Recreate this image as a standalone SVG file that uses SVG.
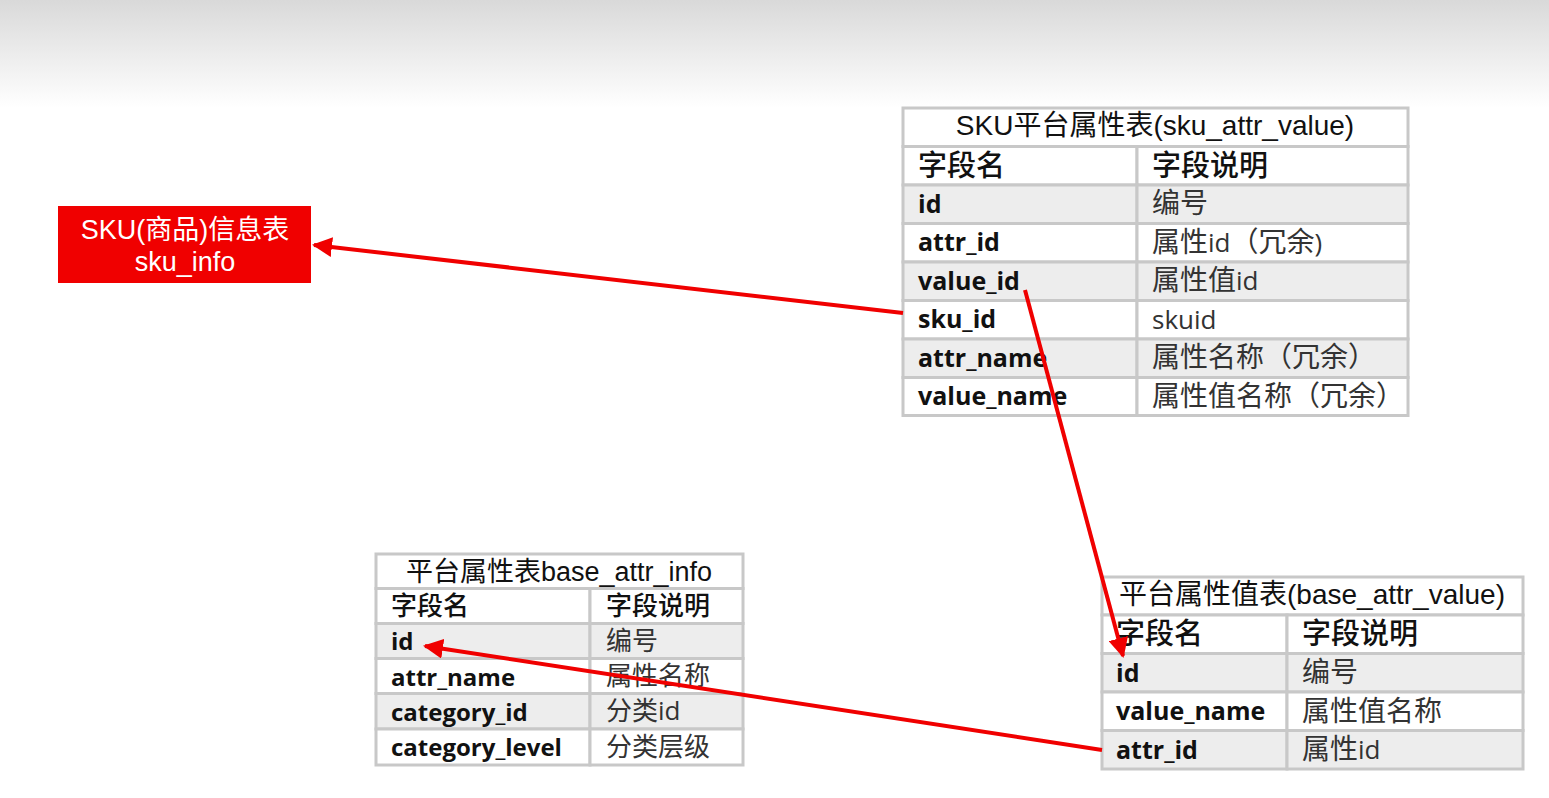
<svg xmlns="http://www.w3.org/2000/svg" width="1549" height="798" viewBox="0 0 1549 798">
<defs>
<linearGradient id="bg" x1="0" y1="0" x2="0" y2="1">
<stop offset="0" stop-color="#d9d9d9"/>
<stop offset="1" stop-color="#ffffff"/>
</linearGradient>
<marker id="ah" viewBox="0 0 10 10" refX="9" refY="5" markerWidth="5" markerHeight="5" orient="auto" markerUnits="strokeWidth">
<path d="M0,0 L10,5 L0,10 z" fill="#f00000"/>
</marker>
<style>
.cell{stroke:#c8c8c8;stroke-width:3}
.w{fill:#ffffff}
.g{fill:#ededed}
.title{font-family:"Liberation Sans","Noto Sans CJK SC",sans-serif;font-size:28px;fill:#111;text-anchor:middle}
.hd{font-family:"Noto Sans CJK SC",sans-serif;font-size:29px;font-weight:500;fill:#111}
.fn{font-family:"Open Sans","Noto Sans CJK SC",sans-serif;font-weight:bold;font-size:25px;fill:#111}
.ds{font-family:"Noto Sans CJK SC",sans-serif;font-size:28px;fill:#333}
.lt{font-family:"Open Sans",sans-serif;font-size:26px}
.sm .hd{font-size:26px}
.sm .ds{font-size:26px}
.sm .fn{font-size:24px}
.sm .title{font-size:27px}
.lbl{font-family:"Liberation Sans","Noto Sans CJK SC",sans-serif;font-size:27px;fill:#fff;text-anchor:middle}
.conn{stroke:#f00000;stroke-width:4;fill:none;marker-end:url(#ah)}
</style>
</defs>
<rect x="0" y="0" width="1549" height="108" fill="url(#bg)"/>
<rect x="0" y="108" width="1549" height="690" fill="#ffffff"/>

<g id="sku_info">
<rect x="58" y="206" width="253" height="77" fill="#f00000"/>
<text class="lbl" x="185" y="239">SKU(商品)信息表</text>
<text class="lbl" x="185" y="271">sku_info</text>
</g>

<g id="sku_attr_value">
<rect class="cell w" x="903" y="108" width="505" height="38.5"/>
<rect class="cell w" x="903" y="146.5" width="234" height="38.5"/>
<rect class="cell w" x="1137" y="146.5" width="271" height="38.5"/>
<rect class="cell g" x="903" y="185" width="234" height="38.5"/>
<rect class="cell g" x="1137" y="185" width="271" height="38.5"/>
<rect class="cell w" x="903" y="223.5" width="234" height="38.5"/>
<rect class="cell w" x="1137" y="223.5" width="271" height="38.5"/>
<rect class="cell g" x="903" y="262" width="234" height="38.5"/>
<rect class="cell g" x="1137" y="262" width="271" height="38.5"/>
<rect class="cell w" x="903" y="300.5" width="234" height="38.5"/>
<rect class="cell w" x="1137" y="300.5" width="271" height="38.5"/>
<rect class="cell g" x="903" y="339" width="234" height="38.5"/>
<rect class="cell g" x="1137" y="339" width="271" height="38.5"/>
<rect class="cell w" x="903" y="377.5" width="234" height="38"/>
<rect class="cell w" x="1137" y="377.5" width="271" height="38"/>
<text class="title" x="1155" y="135">SKU平台属性表(sku_attr_value)</text>
<text class="hd" x="918" y="176">字段名</text>
<text class="hd" x="1152" y="176">字段说明</text>
<text class="fn" x="918" y="213">id</text>
<text class="ds" x="1152" y="213">编号</text>
<text class="fn" x="918" y="251">attr_id</text>
<text class="ds" x="1152" y="252">属性<tspan class="lt">id</tspan>（冗余<tspan class="lt">)</tspan></text>
<text class="fn" x="918" y="290">value_id</text>
<text class="ds" x="1152" y="290">属性值<tspan class="lt">id</tspan></text>
<text class="fn" x="918" y="328">sku_id</text>
<text class="ds" x="1152" y="329"><tspan class="lt">skuid</tspan></text>
<text class="fn" x="918" y="367">attr_name</text>
<text class="ds" x="1152" y="367">属性名称（冗余）</text>
<text class="fn" x="918" y="405">value_name</text>
<text class="ds" x="1152" y="406">属性值名称（冗余）</text>
</g>

<g id="base_attr_info" class="sm">
<rect class="cell w" x="376" y="554" width="367" height="34.5"/>
<rect class="cell w" x="376" y="588.5" width="214" height="35"/>
<rect class="cell w" x="590" y="588.5" width="153" height="35"/>
<rect class="cell g" x="376" y="623.5" width="214" height="35"/>
<rect class="cell g" x="590" y="623.5" width="153" height="35"/>
<rect class="cell w" x="376" y="658.5" width="214" height="35"/>
<rect class="cell w" x="590" y="658.5" width="153" height="35"/>
<rect class="cell g" x="376" y="693.5" width="214" height="35.5"/>
<rect class="cell g" x="590" y="693.5" width="153" height="35.5"/>
<rect class="cell w" x="376" y="729" width="214" height="36"/>
<rect class="cell w" x="590" y="729" width="153" height="36"/>
<text class="title" x="559" y="581">平台属性表base_attr_info</text>
<text class="hd" x="391" y="615">字段名</text>
<text class="hd" x="606" y="615">字段说明</text>
<text class="fn" x="391" y="650">id</text>
<text class="ds" x="606" y="650">编号</text>
<text class="fn" x="391" y="686">attr_name</text>
<text class="ds" x="606" y="685">属性名称</text>
<text class="fn" x="391" y="721">category_id</text>
<text class="ds" x="606" y="720">分类<tspan class="lt">id</tspan></text>
<text class="fn" x="391" y="756">category_level</text>
<text class="ds" x="606" y="756">分类层级</text>
</g>

<g id="base_attr_value">
<rect class="cell w" x="1102" y="577" width="421" height="38"/>
<rect class="cell w" x="1102" y="615" width="185" height="38.5"/>
<rect class="cell w" x="1287" y="615" width="236" height="38.5"/>
<rect class="cell g" x="1102" y="653.5" width="185" height="38.5"/>
<rect class="cell g" x="1287" y="653.5" width="236" height="38.5"/>
<rect class="cell w" x="1102" y="692" width="185" height="38.5"/>
<rect class="cell w" x="1287" y="692" width="236" height="38.5"/>
<rect class="cell g" x="1102" y="730.5" width="185" height="38.5"/>
<rect class="cell g" x="1287" y="730.5" width="236" height="38.5"/>
<text class="title" x="1312" y="604">平台属性值表(base_attr_value)</text>
<text class="hd" x="1116" y="644">字段名</text>
<text class="hd" x="1302" y="644">字段说明</text>
<text class="fn" x="1116" y="682">id</text>
<text class="ds" x="1302" y="682">编号</text>
<text class="fn" x="1116" y="720">value_name</text>
<text class="ds" x="1302" y="721">属性值名称</text>
<text class="fn" x="1116" y="759">attr_id</text>
<text class="ds" x="1302" y="759">属性<tspan class="lt">id</tspan></text>
</g>

<g id="connectors">
<path class="conn" d="M903,313 L314,245"/>
<path class="conn" d="M1025,290 L1123,656"/>
<path class="conn" d="M1102,750 L425,646"/>
</g>
</svg>
